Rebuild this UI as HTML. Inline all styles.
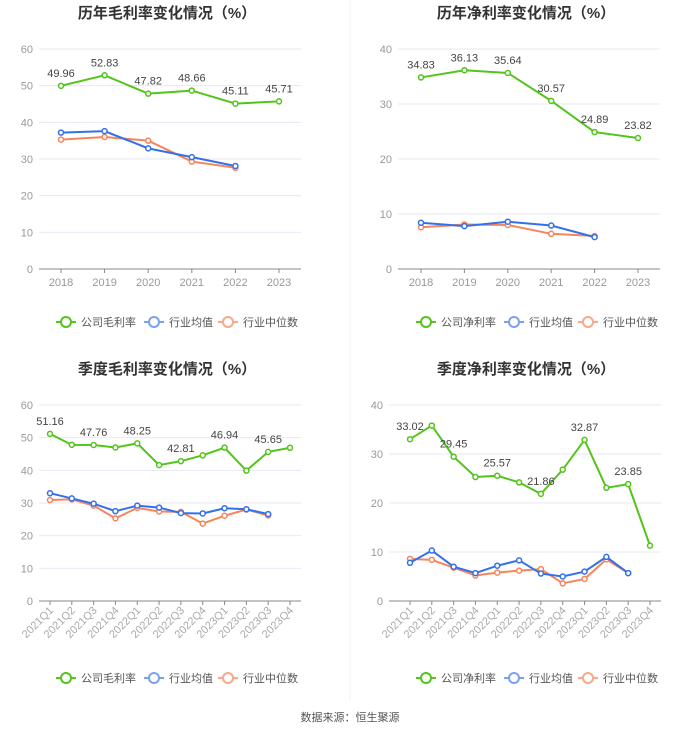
<!DOCTYPE html>
<html><head><meta charset="utf-8"><style>
html,body{margin:0;padding:0;background:#fff;}
body{width:700px;height:734px;position:relative;overflow:hidden;font-family:"Liberation Sans","Noto Sans CJK SC",sans-serif;}
svg{position:absolute;left:0;top:0;}
</style></head><body>
<svg id="chart" width="700" height="734" font-family="Liberation Sans, Noto Sans CJK SC, sans-serif"></svg>
<script>
const years=["2018","2019","2020","2021","2022","2023"];
const quarters=["2021Q1","2021Q2","2021Q3","2021Q4","2022Q1","2022Q2","2022Q3","2022Q4","2023Q1","2023Q2","2023Q3","2023Q4"];
const yGrossCompany=[49.96,52.83,47.82,48.66,45.11,45.71];
const yGrossAvg=[37.2,37.6,32.9,30.5,28.1];
const yGrossMedian=[35.3,36.0,35.0,29.3,27.6];
const yNetCompany=[34.83,36.13,35.64,30.57,24.89,23.82];
const yNetAvg=[8.4,7.8,8.6,7.9,5.8];
const yNetMedian=[7.6,8.1,8.0,6.4,6.0];
const qGrossCompany=[51.16,47.8,47.76,47.0,48.25,41.6,42.81,44.6,46.94,39.9,45.65,46.9];
const qGrossAvg=[33.0,31.4,29.8,27.5,29.2,28.6,26.9,26.8,28.4,28.1,26.6];
const qGrossMedian=[30.9,31.1,29.2,25.3,28.5,27.4,27.3,23.7,26.1,28.0,26.2];
const qNetCompany=[33.02,35.8,29.45,25.3,25.57,24.2,21.86,26.8,32.87,23.1,23.85,11.3];
const qNetAvg=[7.8,10.3,7.0,5.7,7.2,8.3,5.6,5.0,6.0,9.0,5.7];
const qNetMedian=[8.6,8.4,6.8,5.2,5.8,6.2,6.5,3.6,4.5,8.5,5.7];
const ticks60=[0,10,20,30,40,50,60];
const ticks40=[0,10,20,30,40];

const svg=document.getElementById('chart');
const NS='http://www.w3.org/2000/svg';
function mk(tag,attrs,parent){const e=document.createElementNS(NS,tag);for(const k in attrs)e.setAttribute(k,attrs[k]);(parent||svg).appendChild(e);return e;}
const GREEN='#52c41a',BLUE='#3370eb',ORANGE='#f8845a';

function chart(o){
  const g=mk('g',{});
  
  
  const max=o.ticks[o.ticks.length-1];
  const ys=v=>o.y0-(v/max)*(o.y0-o.y1);
  const n=o.cats.length;
  const xs=i=>o.xa+(o.xb-o.xa)*i/(n-1);
  const t=mk('text',{x:o.tx,y:o.top+18,'text-anchor':'middle','font-size':'15','font-weight':'bold',fill:'#333'},g);
  t.textContent=o.title;
  
  
  o.ticks.forEach(v=>{
    const y=ys(v);
    if(v>0){const l=mk('line',{x1:o.gl,x2:o.gr,y1:y,y2:y,stroke:'#e6e9f5','stroke-width':1},g);
      
      }
    const tt=mk('text',{x:o.gl-6,y:y+4,'text-anchor':'end','font-size':'11',fill:'#999'},g);
    tt.textContent=v;
    
    
  });
  const ax=mk('line',{x1:o.gl,x2:o.gr,y1:o.y0,y2:o.y0,stroke:'#888','stroke-width':1},g);
  
  
  o.cats.forEach((c,i)=>{
    const x=xs(i);
    mk('line',{x1:x,x2:x,y1:o.y0,y2:o.y0+4,stroke:'#888'},g);
    let tt;
    if(o.rot){tt=mk('text',{x:x+4,y:o.y0+10,'text-anchor':'end','font-size':'11',fill:'#aaa',transform:`rotate(-45 ${x+4} ${o.y0+10})`},g);}
    else tt=mk('text',{x:x,y:o.y0+17,'text-anchor':'middle','font-size':'11',fill:'#999'},g);
    tt.textContent=c;
    
    
  });
  [[o.med,ORANGE,'series-industry-median'],[o.avg,BLUE,'series-industry-average'],[o.comp,GREEN,'series-company']].forEach(([arr,col,nm])=>{
    const p=mk('polyline',{points:arr.map((v,i)=>xs(i)+','+ys(v)).join(' '),fill:'none',stroke:col,'stroke-width':2},g);
    
    
    arr.forEach((v,i)=>{
      const c=mk('circle',{cx:xs(i),cy:ys(v),r:2.5,fill:'#fff',stroke:col,'stroke-width':1.5},g);
      
      
    });
  });
  o.comp.forEach((v,i)=>{
    if(i%o.every!==0)return;
    const tt=mk('text',{x:xs(i),y:ys(v)-9,'text-anchor':'middle','font-size':'11',fill:'#444'},g);
    tt.textContent=v.toFixed(2);
    
    
  });
  const lg=mk('g',{},g);
  
  
  [[o.lname,GREEN,o.lx],['行业均值','#7aa0f0',o.lx+88],['行业中位数','#f9a88a',o.lx+162]].forEach(([nm,col,x])=>{
    const e=mk('g',{},lg);
    
    
    mk('line',{x1:x,x2:x+20,y1:o.ly,y2:o.ly,stroke:col,'stroke-width':2},e);
    mk('circle',{cx:x+10,cy:o.ly,r:5,fill:'#fff',stroke:col,'stroke-width':2},e);
    const tt=mk('text',{x:x+25,y:o.ly+4,'font-size':'11',fill:'#555'},e);
    tt.textContent=nm;
  });
}
chart({name:'annual-gross-margin-chart',title:'历年毛利率变化情况（%）',tx:167,top:0,cats:years,ticks:ticks60,y0:269,y1:49,gl:39,gr:301,xa:61,xb:279,comp:yGrossCompany,avg:yGrossAvg,med:yGrossMedian,every:1,rot:false,lname:'公司毛利率',lx:56,ly:322});
chart({name:'annual-net-margin-chart',title:'历年净利率变化情况（%）',tx:526,top:0,cats:years,ticks:ticks40,y0:269,y1:49,gl:398,gr:660,xa:421,xb:638,comp:yNetCompany,avg:yNetAvg,med:yNetMedian,every:1,rot:false,lname:'公司净利率',lx:416,ly:322});
chart({name:'quarterly-gross-margin-chart',title:'季度毛利率变化情况（%）',tx:167,top:356,cats:quarters,ticks:ticks60,y0:601,y1:405,gl:39,gr:301,xa:50,xb:290,comp:qGrossCompany,avg:qGrossAvg,med:qGrossMedian,every:2,rot:true,lname:'公司毛利率',lx:56,ly:678});
chart({name:'quarterly-net-margin-chart',title:'季度净利率变化情况（%）',tx:526,top:356,cats:quarters,ticks:ticks40,y0:601,y1:405,gl:389,gr:661,xa:410,xb:650,comp:qNetCompany,avg:qNetAvg,med:qNetMedian,every:2,rot:true,lname:'公司净利率',lx:416,ly:678});
const d=mk('line',{x1:350,x2:350,y1:0,y2:700,stroke:'#f0f0f0'});


const s=mk('text',{x:350,y:721,'text-anchor':'middle','font-size':'11',fill:'#555'});
s.textContent='数据来源：恒生聚源';


</script>
</body></html>
